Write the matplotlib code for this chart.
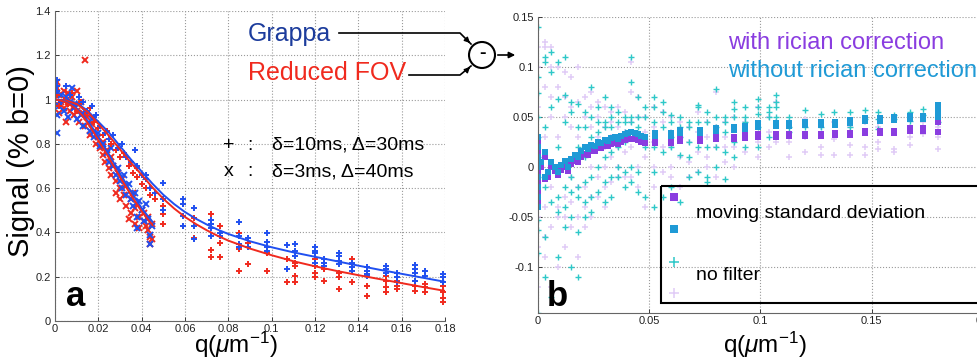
"""Grappa vs reduced FOV signal decay (a) and their difference (b)."""

import matplotlib.pyplot as plt
from matplotlib.patches import Circle, Rectangle

plt.rcParams["font.family"] = ["Liberation Sans", "DejaVu Sans"]
plt.rcParams["mathtext.fontset"] = "custom"
plt.rcParams["mathtext.rm"] = "Liberation Sans"
plt.rcParams["mathtext.it"] = "Liberation Sans:italic"
plt.rcParams["axes.unicode_minus"] = False

BLUE = "#2050F0"
RED = "#F02A1E"
PURPLE = "#8A3DE0"
SKY = "#1F9AD6"
CYAN = "#2EC8C8"
LAVENDER = "#E0CBF6"

# ---- panel a: fitted curves -------------------------------------------------
fit_plus_q = [0, 0.005, 0.01, 0.015, 0.02, 0.025, 0.03, 0.035, 0.04, 0.045, 0.05, 0.055,
              0.06, 0.065, 0.07, 0.075, 0.08, 0.09, 0.10, 0.11, 0.12, 0.13, 0.14, 0.15,
              0.16, 0.17, 0.18]
fit_plus_blue = [1.0, 0.997, 0.985, 0.95, 0.90, 0.85, 0.79, 0.73, 0.675, 0.62, 0.57, 0.528,
                 0.492, 0.462, 0.436, 0.413, 0.393, 0.36, 0.333, 0.31, 0.29, 0.27, 0.25,
                 0.231, 0.213, 0.195, 0.177]
fit_plus_red = [1.0, 0.996, 0.98, 0.945, 0.89, 0.835, 0.775, 0.715, 0.66, 0.603, 0.552, 0.508,
                0.47, 0.438, 0.41, 0.385, 0.363, 0.327, 0.297, 0.27, 0.247, 0.226, 0.207,
                0.189, 0.171, 0.153, 0.136]
fit_x_q = [0, 0.0025, 0.005, 0.0075, 0.01, 0.0125, 0.015, 0.0175, 0.02, 0.0225, 0.025,
           0.0275, 0.03, 0.0325, 0.035, 0.0375, 0.04, 0.0425, 0.045]
fit_x_blue = [1.0, 0.997, 0.99, 0.977, 0.96, 0.935, 0.905, 0.87, 0.83, 0.79, 0.75, 0.708,
              0.666, 0.625, 0.585, 0.547, 0.51, 0.478, 0.448]
fit_x_red = [1.0, 0.996, 0.987, 0.973, 0.955, 0.928, 0.895, 0.857, 0.815, 0.775, 0.735,
             0.692, 0.65, 0.61, 0.57, 0.532, 0.495, 0.463, 0.433]

# ---- panel a: delta=3ms / Delta=40ms points (x) -----------------------------
blue_x_q = [0.001, 0.001, 0.002, 0.003, 0.004, 0.005, 0.006, 0.007, 0.008, 0.009, 0.010,
            0.011, 0.012, 0.013, 0.014, 0.016, 0.017, 0.018, 0.020, 0.021, 0.022, 0.024,
            0.025, 0.026, 0.027, 0.028, 0.029, 0.030, 0.031, 0.032, 0.033, 0.034, 0.035,
            0.036, 0.037, 0.038, 0.038, 0.039, 0.040, 0.041, 0.042, 0.043, 0.044, 0.044, 0.045]
blue_x_s = [0.85, 0.93, 0.97, 1.02, 0.95, 1.01, 0.92, 0.99, 1.05, 0.96, 0.91,
            0.98, 0.93, 0.88, 0.95, 0.86, 0.91, 0.83, 0.85, 0.79, 0.80, 0.76,
            0.72, 0.78, 0.70, 0.66, 0.69, 0.63, 0.60, 0.66, 0.57, 0.62, 0.55,
            0.52, 0.58, 0.47, 0.42, 0.54, 0.50, 0.45, 0.53, 0.46, 0.39, 0.35, 0.43]
red_x_q = [0.001, 0.001, 0.001, 0.002, 0.002, 0.003, 0.004, 0.004, 0.005, 0.005, 0.006,
           0.007, 0.007, 0.008, 0.009, 0.009, 0.010, 0.010, 0.011, 0.012, 0.013, 0.014,
           0.014, 0.015, 0.016, 0.017, 0.018, 0.019, 0.020, 0.021, 0.022, 0.022, 0.023,
           0.024, 0.025, 0.026, 0.026, 0.027, 0.028, 0.028, 0.029, 0.030, 0.030, 0.031,
           0.032, 0.033, 0.033, 0.034, 0.035, 0.035, 0.036, 0.037, 0.037, 0.038, 0.039,
           0.039, 0.040, 0.041, 0.041, 0.042, 0.043, 0.043, 0.044, 0.044, 0.045, 0.045]
red_x_s = [1.05, 0.98, 1.08, 0.94, 1.02, 0.99, 1.04, 0.96, 0.90, 1.00, 1.03,
           0.95, 0.98, 1.01, 0.93, 0.97, 1.04, 0.95, 0.90, 0.99, 0.94, 1.18,
           0.88, 0.92, 0.84, 0.89, 0.86, 0.80, 0.83, 0.78, 0.75, 0.81, 0.72,
           0.77, 0.69, 0.74, 0.66, 0.70, 0.63, 0.58, 0.67, 0.60, 0.55, 0.64,
           0.57, 0.52, 0.61, 0.46, 0.55, 0.49, 0.58, 0.51, 0.44, 0.53, 0.47,
           0.42, 0.50, 0.45, 0.49, 0.43, 0.47, 0.41, 0.38, 0.35, 0.37, 0.44]

# ---- panel a: delta=10ms / Delta=30ms points (+) ----------------------------
blue_plus_q = [0.001, 0.001, 0.001, 0.003, 0.005, 0.007, 0.009, 0.011, 0.013, 0.015, 0.017,
               0.019, 0.021, 0.023, 0.025, 0.027, 0.029, 0.031, 0.033, 0.035, 0.037, 0.038,
               0.040, 0.042, 0.042, 0.044, 0.046]
blue_plus_s = [1.09, 1.06, 1.04, 0.99, 1.06, 1.02, 0.97, 1.01, 0.99, 0.95, 0.97,
               0.93, 0.88, 0.85, 0.82, 0.84, 0.78, 0.80, 0.74, 0.72, 0.77, 0.70,
               0.66, 0.64, 0.66, 0.60, 0.58]
red_plus_q = [0.001, 0.002, 0.004, 0.006, 0.008, 0.010, 0.012, 0.014, 0.016, 0.018, 0.020,
              0.022, 0.024, 0.026, 0.028, 0.030, 0.032, 0.034, 0.036, 0.038, 0.038, 0.040,
              0.042, 0.044, 0.046]
red_plus_s = [1.02, 0.97, 1.00, 0.98, 1.03, 0.95, 0.99, 0.93, 0.96, 0.90, 0.87,
              0.84, 0.86, 0.80, 0.77, 0.74, 0.76, 0.70, 0.67, 0.69, 0.65, 0.62,
              0.60, 0.57, 0.55]

plus_cols = [0.050, 0.059, 0.064, 0.072, 0.076, 0.085, 0.089, 0.098, 0.107, 0.111,
             0.120, 0.124, 0.131, 0.137, 0.144, 0.153, 0.158, 0.166, 0.171, 0.179]
blue_plus_cols = [[0.625, 0.55, 0.50], [0.55, 0.527, 0.474, 0.43], [0.509, 0.43, 0.372],
                  [0.456, 0.437, 0.422, 0.384], [0.398, 0.384], [0.447, 0.384, 0.347, 0.332],
                  [0.377, 0.332], [0.396, 0.357, 0.332, 0.317], [0.344, 0.234],
                  [0.347, 0.317, 0.294], [0.332, 0.317, 0.306, 0.264], [0.279, 0.264, 0.249],
                  [0.309, 0.294, 0.272, 0.257], [0.264, 0.242, 0.227],
                  [0.242, 0.227, 0.212, 0.204], [0.249, 0.234, 0.219], [0.219, 0.197, 0.174],
                  [0.252, 0.234, 0.219, 0.182], [0.227, 0.204], [0.212, 0.197, 0.174]]
red_plus_cols = [[0.52, 0.485, 0.44], [0.527, 0.43], [0.467, 0.376], [0.485, 0.32, 0.29],
                 [0.43, 0.354, 0.291], [0.398, 0.324, 0.227], [0.354, 0.257], [0.306, 0.227],
                 [0.282, 0.174], [0.264, 0.249, 0.204, 0.174], [0.279, 0.249, 0.219, 0.197],
                 [0.234, 0.182], [0.219, 0.197, 0.144], [0.279, 0.257, 0.174], [0.159, 0.114],
                 [0.204, 0.182, 0.152, 0.129], [0.182, 0.159, 0.144], [0.182, 0.159, 0.137],
                 [0.167, 0.152, 0.129], [0.159, 0.129, 0.102, 0.084]]

# ---- panel b: no filter differences (+) -------------------------------------
nf_cols = [0.000, 0.003, 0.006, 0.009, 0.012, 0.015, 0.018, 0.021, 0.024, 0.027, 0.030,
           0.033, 0.036, 0.039, 0.042, 0.045, 0.048, 0.052, 0.056, 0.060, 0.064, 0.068,
           0.072, 0.076, 0.080, 0.084, 0.088, 0.093, 0.099, 0.104, 0.107, 0.113, 0.120,
           0.127, 0.133, 0.140, 0.147, 0.153, 0.160, 0.167, 0.173, 0.180]
nf_without = [[0.14, 0.09, 0.074, 0.05, 0.03, 0.01, -0.01, -0.053, -0.063, -0.086, -0.146],
              [0.11, 0.105, 0.04, -0.02, -0.07, -0.11], [0.115, 0.095, 0.06, -0.035, -0.13],
              [0.105, 0.068, 0.02, -0.03, -0.045, -0.09], [0.11, 0.072, 0.045, -0.02, -0.04, -0.06],
              [0.065, 0.055, -0.01, -0.025, -0.05, -0.1],
              [0.063, 0.04, 0.02, -0.02, -0.03, -0.065, -0.11],
              [0.055, 0.04, 0.01, -0.015, -0.035, -0.05], [0.08, 0.05, 0.03, -0.01, -0.03, -0.045],
              [0.06, 0.045, 0.035, 0.0, -0.025], [0.07, 0.045, 0.04, 0.01, -0.015, -0.035],
              [0.06, 0.05, 0.04, 0.015, -0.01, -0.03], [0.055, 0.045, 0.02, 0.0, -0.01],
              [0.05, 0.045, 0.035, 0.025, -0.005, -0.02], [0.11, 0.085, 0.05, 0.045, 0.0, -0.015],
              [0.07, 0.05, 0.04, -0.005, -0.025], [0.06, 0.05, 0.02, -0.03],
              [0.07, 0.06, 0.045, 0.02, -0.005, -0.04], [0.065, 0.055, 0.04, 0.015, -0.03],
              [0.052, 0.045, 0.03, 0.02, -0.02], [0.05, 0.04, 0.03, 0.012, -0.035],
              [0.045, 0.04, 0.025, 0.01, -0.01], [0.06, 0.062, 0.045, 0.02, -0.005],
              [0.055, 0.045, 0.02, -0.01, -0.015], [0.078, 0.05, 0.04, 0.02, 0.0],
              [0.05, 0.045, 0.035, 0.015, -0.012], [0.065, 0.058, 0.05, 0.025, 0.01],
              [0.06, 0.05, 0.045, 0.02], [0.068, 0.06, 0.053, 0.04, 0.02],
              [0.06, 0.055, 0.05, 0.03], [0.072, 0.065, 0.06, 0.05], [0.05, 0.04, 0.035],
              [0.057, 0.04], [0.053, 0.04], [0.055], [0.055, 0.04], [0.057, 0.048],
              [0.055, 0.048, 0.038], [0.052, 0.048], [0.055, 0.046], [0.058, 0.052], [0.045]]
nf_with = [[0.12, 0.1, 0.06, 0.02, -0.02, -0.05, -0.08, -0.12],
           [0.125, 0.12, 0.08, 0.03, -0.04, -0.07, -0.09],
           [0.12, 0.1, 0.07, 0.05, -0.02, -0.06, -0.12], [0.1, 0.08, 0.03, -0.04, -0.05, -0.1],
           [0.095, 0.07, 0.05, -0.03, -0.05, -0.08], [0.09, 0.06, 0.04, -0.01, -0.035, -0.06],
           [0.1, 0.065, 0.03, -0.02, -0.05, -0.09], [0.07, 0.05, 0.02, -0.02, -0.04, -0.06],
           [0.075, 0.06, 0.04, 0.0, -0.03, -0.05], [0.065, 0.05, 0.03, -0.01, -0.03],
           [0.06, 0.04, 0.02, 0.0, -0.02, -0.04], [0.055, 0.045, 0.03, 0.01, -0.015],
           [0.06, 0.04, 0.02, 0.0, -0.01], [0.055, 0.035, 0.015, -0.01],
           [0.105, 0.075, 0.045, 0.02, -0.01], [0.07, 0.05, 0.03, 0.0, -0.02],
           [0.05, 0.035, 0.01, -0.04], [0.06, 0.04, 0.025, 0.0, -0.02],
           [0.055, 0.045, 0.02, -0.005], [0.05, 0.035, 0.02, 0.0, -0.01],
           [0.045, 0.03, 0.01, -0.02], [0.04, 0.025, 0.005, -0.01],
           [0.055, 0.035, 0.015, -0.005], [0.045, 0.03, 0.01, 0.0], [0.075, 0.04, 0.02, -0.01],
           [0.045, 0.03, 0.02, 0.005], [0.05, 0.04, 0.02, 0.0], [0.045, 0.035, 0.015],
           [0.06, 0.04, 0.025, 0.01], [0.05, 0.035, 0.02], [0.065, 0.045, 0.025],
           [0.045, 0.025, 0.01], [0.048, 0.03, 0.015], [0.04, 0.02, 0.012],
           [0.045, 0.028, 0.012], [0.04, 0.022, 0.012], [0.045, 0.02, 0.012],
           [0.04, 0.025, 0.018], [0.035, 0.018, 0.015], [0.04, 0.03, 0.022], [0.045, 0.033],
           [0.04, 0.03, 0.018]]

# ---- panel b: moving standard deviation filter ------------------------------
ms_low_q = [0, 0, 0, 0, 0, 0, 0, 0, 0.0015, 0.003, 0.003, 0.0045, 0.006, 0.0075, 0.009,
            0.0105, 0.012, 0.0135, 0.015, 0.0165, 0.018, 0.0195, 0.021, 0.0225, 0.024,
            0.0255, 0.027, 0.0285, 0.030, 0.0315, 0.033, 0.0345, 0.036, 0.0375, 0.039,
            0.0405, 0.042, 0.0435, 0.045, 0.0465, 0.048]
ms_low_without = [0.03, 0.02, 0.01, 0.0, -0.01, -0.02, -0.03, -0.04, 0.005, 0.015, -0.01,
                  -0.005, 0.005, 0.0, -0.005, 0.002, 0.006, 0.0, 0.008, 0.012, 0.01, 0.016,
                  0.02, 0.018, 0.022, 0.021, 0.025, 0.024, 0.027, 0.026, 0.029, 0.03, 0.028,
                  0.031, 0.033, 0.034, 0.035, 0.034, 0.033, 0.031, 0.03]
ms_low_with = [0.025, 0.015, 0.005, -0.005, -0.015, -0.025, -0.035, -0.04, 0.0, 0.01, -0.012,
               -0.01, 0.0, -0.004, -0.008, -0.003, 0.0, -0.004, 0.003, 0.006, 0.005, 0.01,
               0.013, 0.012, 0.016, 0.016, 0.019, 0.019, 0.021, 0.021, 0.023, 0.024, 0.023,
               0.025, 0.027, 0.028, 0.028, 0.028, 0.027, 0.025, 0.024]
ms_cols = [0.0525, 0.060, 0.064, 0.073, 0.080, 0.088, 0.093, 0.099, 0.107, 0.113,
           0.120, 0.127, 0.1335, 0.140, 0.147, 0.1535, 0.160, 0.167, 0.173, 0.180]
ms_without = [[0.034, 0.031], [0.034, 0.031], [0.037, 0.034], [0.037, 0.034], [0.039, 0.036],
              [0.040, 0.037], [0.041, 0.038], [0.044, 0.040], [0.044, 0.041], [0.044, 0.041],
              [0.045, 0.042], [0.045, 0.042], [0.045, 0.042], [0.047, 0.044], [0.049, 0.046],
              [0.049, 0.046], [0.050, 0.047], [0.051, 0.048], [0.051, 0.048],
              [0.062, 0.056, 0.050]]
ms_with = [[0.027, 0.024], [0.026, 0.024], [0.029, 0.026], [0.029, 0.026], [0.030, 0.028],
           [0.030, 0.028], [0.032, 0.029], [0.033, 0.030], [0.033, 0.030], [0.033, 0.031],
           [0.033, 0.031], [0.033, 0.031], [0.034, 0.032], [0.034, 0.032], [0.036, 0.034],
           [0.036, 0.034], [0.036, 0.034], [0.039, 0.036], [0.039, 0.036],
           [0.050, 0.045, 0.035]]

a_xticks = [0, 0.02, 0.04, 0.06, 0.08, 0.1, 0.12, 0.14, 0.16, 0.18]
a_yticks = [0, 0.2, 0.4, 0.6, 0.8, 1, 1.2, 1.4]
b_xticks = [0, 0.05, 0.1, 0.15, 0.2]
b_yticks = [-0.1, -0.05, 0, 0.05, 0.1, 0.15]


def flatten(cols, groups):
    qs, vs = [], []
    for q, group in zip(cols, groups):
        for v in group:
            qs.append(q)
            vs.append(v)
    return qs, vs


def style_axes(ax, xticks, yticks):
    ax.set_xticks(xticks)
    ax.set_xticklabels([f"{t:g}" for t in xticks])
    ax.set_yticks(yticks)
    ax.set_yticklabels([f"{t:g}" for t in yticks])
    ax.tick_params(direction="in", length=3, width=0.6, labelsize=8, pad=3, colors="#222222")
    ax.tick_params(axis="x", pad=2)
    ax.grid(color="#9a9a9a", linestyle=":", linewidth=0.8)
    ax.set_axisbelow(True)
    for side in ("top", "right"):
        ax.spines[side].set_visible(False)
    for side in ("left", "bottom"):
        ax.spines[side].set_color("#666666")
        ax.spines[side].set_linewidth(0.8)


fig = plt.figure(figsize=(9.78, 3.6), dpi=100)

# panel a
ax1 = fig.add_axes([55 / 978, 39 / 360, 390 / 978, 310 / 360])
bq, bv = flatten(plus_cols, blue_plus_cols)
rq, rv = flatten(plus_cols, red_plus_cols)
pkw = dict(linestyle="none", markersize=4.5, markeredgewidth=1.4)
xkw = dict(linestyle="none", markersize=3.8, markeredgewidth=1.4)
ax1.plot(red_x_q, red_x_s, "x", color=RED, **xkw)
ax1.plot(blue_x_q, blue_x_s, "x", color=BLUE, **xkw)
ax1.plot(red_plus_q + rq, red_plus_s + rv, "+", color=RED, **pkw)
ax1.plot(blue_plus_q + bq, blue_plus_s + bv, "+", color=BLUE, **pkw)
ax1.plot(fit_plus_q, fit_plus_blue, color=BLUE, linewidth=1.4)
ax1.plot(fit_plus_q, fit_plus_red, color=RED, linewidth=1.4)
ax1.plot(fit_x_q, fit_x_blue, color=BLUE, linewidth=1.4)
ax1.plot(fit_x_q, fit_x_red, color=RED, linewidth=1.4)
ax1.set_xlim(0, 0.18)
ax1.set_ylim(0, 1.4)
style_axes(ax1, a_xticks, a_yticks)

# panel b
ax2 = fig.add_axes([538 / 978, 47 / 360, 445 / 978, 296 / 360])
lq, lv = flatten(nf_cols, nf_with)
cq, cv = flatten(nf_cols, nf_without)
ax2.plot(lq, lv, "+", color=LAVENDER, linestyle="none", markersize=5, markeredgewidth=1.1)
ax2.plot(cq, cv, "+", color=CYAN, linestyle="none", markersize=5, markeredgewidth=1.0)
pq, pv = flatten(ms_cols, ms_with)
sq, sv = flatten(ms_cols, ms_without)
skw = dict(linestyle="none", markersize=4, markeredgewidth=0)
ax2.plot(ms_low_q + pq, ms_low_with + pv, "s", color=PURPLE, **skw)
ax2.plot(ms_low_q + sq, ms_low_without + sv, "s", color=SKY, **skw)
ax2.set_xlim(0, 0.2)
ax2.set_ylim(-0.146, 0.15)
style_axes(ax2, b_xticks, b_yticks)

# overlay in pixel coordinates for annotations
ov = fig.add_axes([0, 0, 1, 1])
ov.set_xlim(0, 978)
ov.set_ylim(360, 0)
ov.axis("off")
ov.patch.set_alpha(0)

ov.text(21, 161, "Signal (% b=0)", rotation=90, ha="center", va="center", fontsize=21)
ov.text(236, 353, r"q($\mu$m$^{-1}$)", ha="center", va="baseline", fontsize=17.5)
ov.text(765, 353, r"q($\mu$m$^{-1}$)", ha="center", va="baseline", fontsize=17.5)
ov.text(66, 297, "a", fontsize=25, fontweight="bold", ha="left", va="center")
ov.text(547, 296, "b", fontsize=25, fontweight="bold", ha="left", va="center")

ov.text(248, 34, "Grappa", color="#1C3C9C", fontsize=18, ha="left", va="center")
ov.text(248, 73, "Reduced FOV", color=RED, fontsize=18, ha="left", va="center")
ov.plot([339, 460, 471], [33, 33, 44], color="black", linewidth=1.2)
ov.plot([409, 460, 471], [75, 75, 66], color="black", linewidth=1.2)
ov.annotate("", xy=(472, 45), xytext=(466, 39),
            arrowprops=dict(arrowstyle="-|>", color="black", lw=1.0, mutation_scale=8))
ov.annotate("", xy=(472, 65), xytext=(466, 71),
            arrowprops=dict(arrowstyle="-|>", color="black", lw=1.0, mutation_scale=8))
ov.add_patch(Circle((482, 55), 13, fill=False, edgecolor="black", linewidth=1.5))
ov.text(482, 54, "-", fontsize=14, fontweight="bold", ha="center", va="center")
ov.annotate("", xy=(518, 55), xytext=(495, 55),
            arrowprops=dict(arrowstyle="-|>", color="black", lw=1.2, mutation_scale=9))

for y, mark, desc in [(145, "+", "δ=10ms, Δ=30ms"), (172, "x", "δ=3ms, Δ=40ms")]:
    ov.text(229, y, mark, fontsize=14, ha="center", va="center")
    ov.text(250, y, ":", fontsize=14, ha="center", va="center")
    ov.text(272, y, desc, fontsize=14, ha="left", va="center")

ov.text(728, 43, "with rician correction", color=PURPLE, fontsize=17, ha="left", va="center")
ov.text(728, 71, "without rician correction", color=SKY, fontsize=17, ha="left", va="center")

ov.add_patch(Rectangle((661, 186), 340, 117, fill=False, edgecolor="black", linewidth=1.5))
ov.plot([674], [197], "s", color=PURPLE, markersize=6, markeredgewidth=0)
ov.plot([674], [229], "s", color=SKY, markersize=6, markeredgewidth=0)
ov.plot([674], [262], "+", color=CYAN, markersize=7, markeredgewidth=1.1)
ov.plot([674], [293], "+", color=LAVENDER, markersize=7, markeredgewidth=1.1)
ov.text(696, 213, "moving standard deviation", fontsize=14, ha="left", va="center")
ov.text(696, 275, "no filter", fontsize=14, ha="left", va="center")

fig.savefig("out.png", dpi=100)
